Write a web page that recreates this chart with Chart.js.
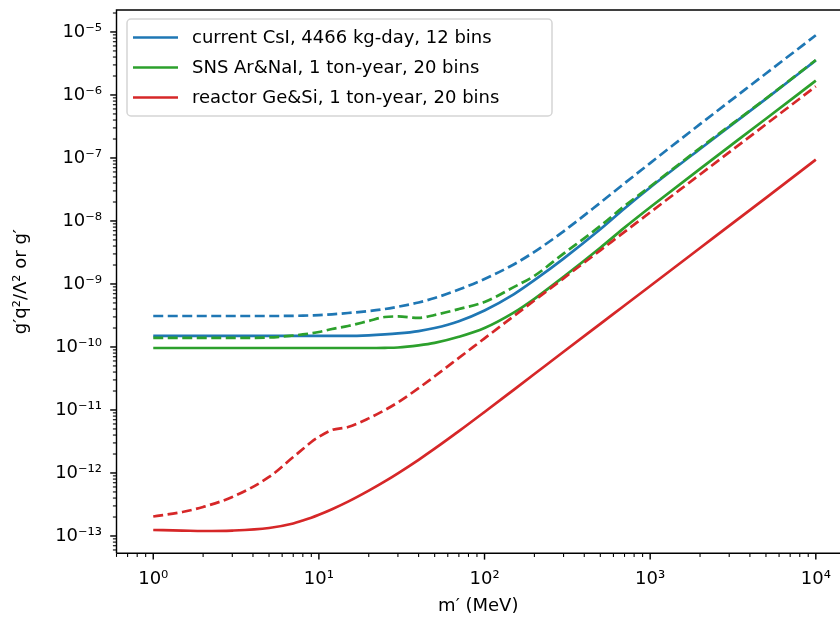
<!DOCTYPE html>
<html><head><meta charset="utf-8">
<script src="https://cdn.jsdelivr.net/npm/chart.js@4.4.1/dist/chart.umd.min.js"></script>
<style>html,body{margin:0;padding:0;background:#fff;}#wrap{width:840px;height:619px;}</style>
</head><body><div id="wrap"><canvas id="c" width="840" height="619"></canvas></div>
<script>
const massMeV = [1,1.5,2,3,5,7,8,9,10,12,15,20,25,30,40,50,70,100,150,200,300,500,700,1000,2000,5000,10000];

const csiSolid = [1.50e-10,1.50e-10,1.50e-10,1.50e-10,1.50e-10,1.50e-10,1.50e-10,1.50e-10,1.50e-10,1.50e-10,1.50e-10,1.53e-10,1.58e-10,1.64e-10,1.79e-10,2.0e-10,2.57e-10,3.80e-10,6.84e-10,1.15e-9,2.53e-9,7.40e-9,1.58e-8,3.40e-8,1.39e-7,8.67e-7,3.54e-6];
const csiDashed = [3.10e-10,3.10e-10,3.10e-10,3.10e-10,3.10e-10,3.12e-10,3.14e-10,3.17e-10,3.20e-10,3.30e-10,3.46e-10,3.72e-10,4.0e-10,4.35e-10,5.09e-10,5.98e-10,8.15e-10,1.20e-9,2.04e-9,3.24e-9,6.85e-9,1.95e-8,3.96e-8,8.30e-8,3.44e-7,2.19e-6,8.87e-6];
const snsSolid = [9.64e-11,9.64e-11,9.64e-11,9.64e-11,9.64e-11,9.64e-11,9.64e-11,9.64e-11,9.64e-11,9.64e-11,9.64e-11,9.64e-11,9.7e-11,9.82e-11,1.06e-10,1.16e-10,1.45e-10,2.0e-10,3.51e-10,5.82e-10,1.30e-9,3.76e-9,7.85e-9,1.65e-8,6.73e-8,4.20e-7,1.69e-6];
const snsDashed = [1.39e-10,1.39e-10,1.39e-10,1.39e-10,1.415e-10,1.52e-10,1.58e-10,1.65e-10,1.73e-10,1.93e-10,2.15e-10,2.59e-10,2.99e-10,3.05e-10,2.89e-10,3.22e-10,4.0e-10,5.18e-10,8.9e-10,1.35e-9,3.03e-9,8.33e-9,1.73e-8,3.53e-8,1.44e-7,8.8e-7,3.59e-6];
const reactorSolid = [1.245e-13,1.22e-13,1.20e-13,1.22e-13,1.34e-13,1.58e-13,1.76e-13,1.95e-13,2.17e-13,2.66e-13,3.51e-13,5.25e-13,7.36e-13,9.89e-13,1.62e-12,2.43e-12,4.61e-12,9.3e-12,2.09e-11,3.72e-11,8.4e-11,2.33e-10,4.56e-10,9.3e-10,3.72e-9,2.33e-8,9.4e-8];
const reactorDashed = [2.04e-13,2.40e-13,2.89e-13,4.16e-13,8.64e-13,1.79e-12,2.40e-12,3.10e-12,3.75e-12,4.81e-12,5.37e-12,7.36e-12,9.95e-12,1.32e-11,2.22e-11,3.43e-11,6.71e-11,1.37e-10,3.08e-10,5.47e-10,1.23e-9,3.42e-9,6.70e-9,1.37e-8,5.47e-8,3.42e-7,1.37e-6];

const seriesLabels = ['current CsI, 4466 kg-day, 12 bins','SNS Ar&NaI, 1 ton-year, 20 bins','reactor Ge&Si, 1 ton-year, 20 bins'];
const seriesColors = ['#1f77b4','#2ca02c','#d62728'];
const xTickExponents = [0,1,2,3,4];
const yTickExponents = [-13,-12,-11,-10,-9,-8,-7,-6,-5];
const xAxisTitle = 'm\u2032 (MeV)';
const yAxisTitle = 'g\u2032q\u00B2/\u039B\u00B2 or g\u2032';

const SUP = {'-':'\u207B','0':'\u2070','1':'\u00B9','2':'\u00B2','3':'\u00B3','4':'\u2074','5':'\u2075','6':'\u2076','7':'\u2077','8':'\u2078','9':'\u2079'};
function powLabel(v){
  const l = Math.log10(v), e = Math.round(l);
  if (Math.abs(l - e) > 1e-6) return '';
  return '10' + String(e).split('').map(c => SUP[c]).join('');
}
function pts(ys){ return massMeV.map((m,i)=>({x:m, y:ys[i]})); }

const FONT = 'DejaVu Sans';
Chart.defaults.font.family = FONT;
Chart.defaults.color = '#000';

const LW = 2.7, DASH = [10,4.5];
const seriesDefs = [
  [csiSolid, 0, false],[csiDashed, 0, true],
  [snsSolid, 1, false],[snsDashed, 1, true],
  [reactorSolid, 2, false],[reactorDashed, 2, true]
];
const datasets = seriesDefs.map(([ys, k, dashed], i) => ({
  label: dashed ? seriesLabels[k] + ' (dashed)' : seriesLabels[k],
  legendLabel: dashed ? null : seriesLabels[k],
  data: pts(ys),
  borderColor: seriesColors[k],
  backgroundColor: seriesColors[k],
  borderWidth: LW,
  borderDash: dashed ? DASH : [],
  pointRadius: 0,
  fill: false,
  cubicInterpolationMode: 'monotone',
  order: 10 - i
}));

function logTicks(scale){
  const out = [];
  const lo = Math.floor(Math.log10(scale.min)), hi = Math.ceil(Math.log10(scale.max));
  for (let e = lo; e <= hi; e++) for (let k = 1; k <= 9; k++) {
    const v = k * Math.pow(10, e);
    if (v >= scale.min && v <= scale.max) out.push({v, major: k === 1});
  }
  return out;
}

const framePlugin = {
  id: 'frameTicksLegend',
  afterDraw(chart){
    const {ctx, chartArea:{left, top, right, bottom}, scales:{x, y}} = chart;
    ctx.save();
    ctx.strokeStyle = '#000'; ctx.lineWidth = 1.44; ctx.lineCap = 'butt';
    ctx.beginPath();
    ctx.moveTo(left, bottom); ctx.lineTo(left, top); ctx.lineTo(right + 4, top);
    ctx.moveTo(left, bottom); ctx.lineTo(right + 4, bottom);
    ctx.stroke();
    for (const t of logTicks(x)) {
      const px = x.getPixelForValue(t.v);
      ctx.lineWidth = t.major ? 1.44 : 1.08;
      ctx.beginPath(); ctx.moveTo(px, bottom); ctx.lineTo(px, bottom + (t.major ? 6.3 : 3.6)); ctx.stroke();
    }
    for (const t of logTicks(y)) {
      const py = y.getPixelForValue(t.v);
      ctx.lineWidth = t.major ? 1.44 : 1.08;
      ctx.beginPath(); ctx.moveTo(left, py); ctx.lineTo(left - (t.major ? 6.3 : 3.6), py); ctx.stroke();
    }
    const items = chart.data.datasets.filter(d => d.legendLabel);
    const bx = 127, by = 19, bw = 425, bh = 97, r = 4;
    ctx.beginPath();
    ctx.roundRect(bx, by, bw, bh, r);
    ctx.fillStyle = 'rgba(255,255,255,0.8)'; ctx.fill();
    ctx.strokeStyle = '#d5d5d5'; ctx.lineWidth = 1.5; ctx.stroke();
    ctx.font = '18px "' + FONT + '"';
    ctx.textBaseline = 'middle'; ctx.textAlign = 'left';
    items.forEach((d, i) => {
      const cy = 37.5 + i * 30;
      ctx.strokeStyle = d.borderColor; ctx.lineWidth = LW; ctx.setLineDash([]);
      ctx.beginPath(); ctx.moveTo(133, cy); ctx.lineTo(178, cy); ctx.stroke();
      ctx.fillStyle = '#000';
      ctx.fillText(d.legendLabel, 192, cy + 1);
    });
    ctx.restore();
  }
};

new Chart(document.getElementById('c'), {
  type: 'line',
  data: { datasets },
  options: {
    responsive: false, animation: false, devicePixelRatio: 1,
    layout: { padding: { left: 0, top: 10, right: 0, bottom: 0 } },
    plugins: { legend: { display: false }, tooltip: { enabled: false } },
    scales: {
      x: {
        type: 'logarithmic', position: 'bottom',
        min: 0.629, max: 13996,
        grid: { display: false, drawTicks: false },
        border: { display: false },
        afterBuildTicks: s => { s.ticks = xTickExponents.map(e => ({ value: Math.pow(10, e) })); },
        afterFit: s => { s.height = 65.7; s.paddingLeft = 0; s.paddingRight = 0; },
        ticks: { autoSkip: false, maxRotation: 0, minRotation: 0, padding: 15, color: '#000',
                 font: { family: FONT, size: 18 }, callback: v => powLabel(v) },
        title: { display: true, text: xAxisTitle, color: '#000', font: { family: FONT, size: 18 },
                 padding: { top: 0, bottom: 2 } }
      },
      y: {
        type: 'logarithmic', position: 'left',
        min: 5.31e-14, max: 2.232e-5,
        grid: { display: false, drawTicks: false },
        border: { display: false },
        afterBuildTicks: s => { s.ticks = yTickExponents.map(e => ({ value: Math.pow(10, e) })); },
        afterFit: s => { s.width = 116.5; s.paddingTop = 0; s.paddingBottom = 0; },
        ticks: { autoSkip: false, padding: 14.5, color: '#000',
                 font: { family: FONT, size: 18 }, callback: v => powLabel(v) },
        title: { display: true, text: yAxisTitle, color: '#000', font: { family: FONT, size: 18 },
                 padding: { top: 11, bottom: 0 } }
      }
    }
  },
  plugins: [framePlugin]
});
</script>
</body></html>
